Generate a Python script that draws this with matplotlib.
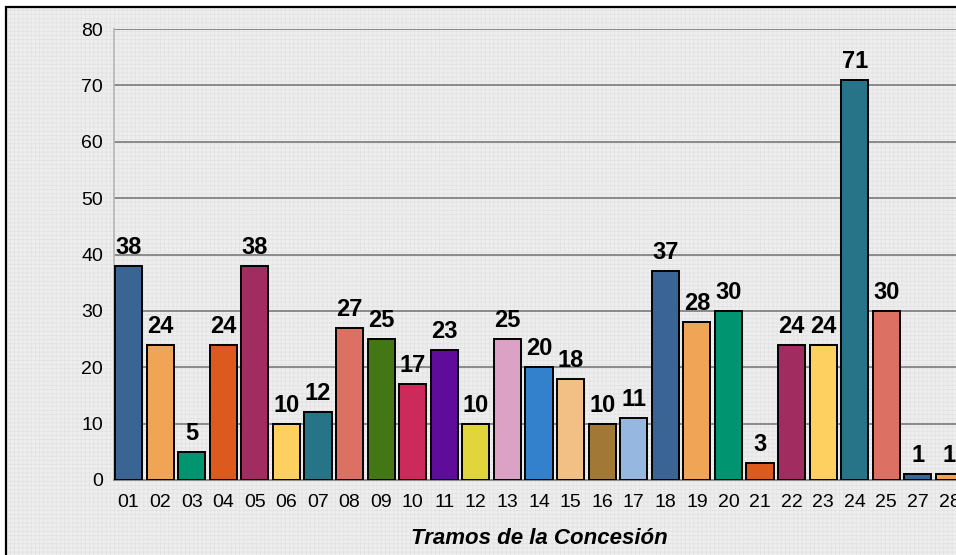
import matplotlib
matplotlib.use('Agg')
import matplotlib.pyplot as plt
from matplotlib.patches import Rectangle

# Data
tramos = ["01", "02", "03", "04", "05", "06", "07", "08", "09", "10", "11", "12", "13", "14",
          "15", "16", "17", "18", "19", "20", "21", "22", "23", "24", "25", "27", "28"]
valores = [38, 24, 5, 24, 38, 10, 12, 27, 25, 17, 23, 10, 25, 20,
           18, 10, 11, 37, 28, 30, 3, 24, 24, 71, 30, 1, 1]
colores = ["#3a6494", "#f0a455", "#009570", "#dd5a1f", "#a12d60", "#fdd060", "#277489",
           "#dc7063", "#437615", "#cb2a5a", "#5f0c9a", "#e0d63c", "#dca2c6", "#3380cc",
           "#f2c084", "#a27836", "#96b8e0",
           "#3a6494", "#f0a455", "#009570", "#dd5a1f", "#a12d60", "#fdd060", "#277489",
           "#dc7063", "#3a6494", "#f0a455"]
y_ticks = [0, 10, 20, 30, 40, 50, 60, 70, 80]

plt.rcParams['font.family'] = ['Liberation Sans', 'DejaVu Sans']
plt.rcParams['hatch.linewidth'] = 0.6

W, H = 956, 555
fig = plt.figure(figsize=(W / 100, H / 100), dpi=100, facecolor='white')

# background with graph-paper texture and black frame (cut off at right/bottom)
x0, y0 = 6 / W, -0.05
bg = Rectangle((x0, y0), 1.1, (H - 7) / H - y0, transform=fig.transFigure,
               facecolor='#eeeeee', edgecolor='#e3e3e3', hatch='++++', linewidth=0, zorder=-2)
fig.patches.append(bg)
frame = Rectangle((x0, y0), 1.1, (H - 7) / H - y0, transform=fig.transFigure,
                  facecolor='none', edgecolor='black', linewidth=1.6, zorder=-1)
fig.patches.append(frame)

ax = fig.add_axes([114 / W, 75 / H, 850 / W, 451 / H])
ax.set_facecolor('none')

x = list(range(len(tramos)))
bars = ax.bar(x, valores, width=0.86, color=colores, edgecolor='black', linewidth=1.4, zorder=3)

for b, v in zip(bars, valores):
    ax.annotate(str(v), (b.get_x() + b.get_width() / 2, v), xytext=(0, 5),
                textcoords='offset points', ha='center', va='bottom',
                fontsize=17, fontweight='bold', color='black', zorder=4)

ax.set_xlim(-0.46, len(tramos) - 1 + 0.46)
ax.set_ylim(0, 80)
ax.set_yticks(y_ticks)
ax.set_xticks(x)
ax.set_xticklabels(tramos)
ax.tick_params(axis='both', length=0, labelsize=14)
ax.tick_params(axis='y', pad=8)
ax.tick_params(axis='x', pad=10)

ax.yaxis.grid(True, color='#8a8a8a', linewidth=1.4)
ax.set_axisbelow(True)
for s in ['top', 'right']:
    ax.spines[s].set_visible(False)
ax.spines['left'].set_color('#b5b5b5')
ax.spines['left'].set_linewidth(1.2)
ax.spines['bottom'].set_color('#8a8a8a')
ax.spines['bottom'].set_linewidth(1.4)

ax.set_xlabel("Tramos de la Concesión", fontsize=16, fontweight='bold', fontstyle='italic',
              labelpad=12)

fig.savefig("out.png", dpi=100, facecolor='white')
